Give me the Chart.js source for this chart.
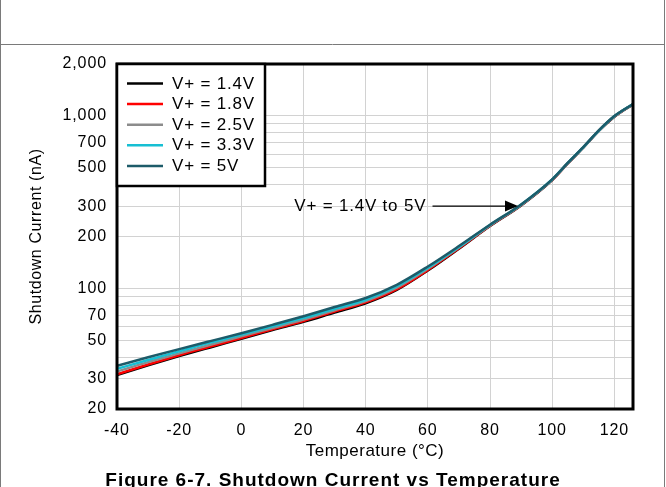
<!DOCTYPE html>
<html><head><meta charset="utf-8">
<script src="https://cdn.jsdelivr.net/npm/chart.js@4.4.0/dist/chart.umd.min.js"></script>
<style>html,body{margin:0;padding:0;background:#fff;}canvas{display:block}</style>
</head><body>
<canvas id="c" width="666" height="487"></canvas>
<script>
// ---- data ----
const temperatures = [-40, -30, -20, -10, 0, 10, 20, 30, 40, 50, 60, 70, 80, 90, 100, 105, 110, 115, 120, 123, 126];
const current14V = [31.5, 35.8, 40.5, 45.5, 51.0, 57.3, 64.0, 72.5, 82.0, 98, 127, 170, 230, 303, 425, 530, 655, 820, 990, 1080, 1165];
const current18V = [31.8, 36.2, 41.0, 46.0, 51.6, 58.0, 64.8, 73.5, 83.0, 99, 128, 171, 231, 304, 426, 531, 656, 821, 992, 1082, 1167];
const current25V = [33.0, 37.4, 42.0, 47.2, 52.8, 59.0, 66.0, 74.8, 84.5, 101, 130, 173, 232, 305, 427, 532, 657, 822, 994, 1083, 1168];
const current33V = [34.2, 38.5, 43.2, 48.5, 54.0, 60.3, 67.5, 76.3, 86.0, 103, 132, 174, 233, 306, 428, 533, 658, 823, 996, 1085, 1170];
const current5V  = [35.6, 39.9, 44.5, 49.5, 55.0, 61.5, 69.0, 78.0, 88.0, 105, 134, 176, 234, 307, 429, 534, 659, 824, 998, 1086, 1170];
const seriesLabels = ['V+ = 1.4V', 'V+ = 1.8V', 'V+ = 2.5V', 'V+ = 3.3V', 'V+ = 5V'];
const xTickValues = [-40, -20, 0, 20, 40, 60, 80, 100, 120];
const yGridValues = [20, 30, 40, 50, 60, 70, 80, 90, 100, 200, 300, 400, 500, 600, 700, 800, 900, 1000, 2000];
const yLabelValues = [20, 30, 50, 70, 100, 200, 300, 500, 700, 1000, 2000];
const annotationText = 'V+ = 1.4V to 5V';
const annotationTip = {x: 89, y: 300};
const annotationTextEndX = 59.5;
const annotationLineStartX = 61.5;
const xTitle = 'Temperature (°C)';
const yTitle = 'Shutdown Current (nA)';
const caption = 'Figure 6-7. Shutdown Current vs Temperature';

// ---- styles ----
const seriesValues = [current14V, current18V, current25V, current33V, current5V];
const seriesColors = ['#000000', '#ff0000', '#8c8c8c', '#17bfd3', '#1d5b69'];
const FONT = "'Liberation Sans', Arial, sans-serif";
const TICK_LS = '0.9px';

const datasets = seriesValues.map((vals, i) => ({
  label: seriesLabels[i],
  data: temperatures.map((t, k) => ({x: t, y: vals[k]})),
  borderColor: seriesColors[i],
  backgroundColor: seriesColors[i],
  borderWidth: 2.5,
  pointRadius: 0,
  cubicInterpolationMode: 'monotone',
  fill: false,
  order: seriesValues.length - i
}));

const decor = {
  id: 'decor',
  beforeLayout(chart) { chart.ctx.letterSpacing = TICK_LS; },
  beforeDraw(chart) {
    const ctx = chart.ctx;
    ctx.save();
    ctx.letterSpacing = '0px';
    ctx.fillStyle = '#fff';
    ctx.fillRect(0, 0, chart.width, chart.height);
    ctx.strokeStyle = '#7a7a7a';
    ctx.lineWidth = 1;
    ctx.beginPath();
    ctx.moveTo(0.5, 0); ctx.lineTo(0.5, chart.height);
    ctx.moveTo(664.5, 0); ctx.lineTo(664.5, chart.height);
    ctx.moveTo(0, 44.5); ctx.lineTo(665, 44.5);
    ctx.stroke();
    ctx.restore();
    ctx.letterSpacing = TICK_LS;
  },
  afterDatasetsDraw(chart) {
    const ctx = chart.ctx;
    const a = chart.chartArea;
    const xs = chart.scales.x, ys = chart.scales.y;
    ctx.save();
    // plot frame
    ctx.strokeStyle = '#000';
    ctx.lineWidth = 3;
    ctx.strokeRect(a.left, a.top, a.right - a.left, a.bottom - a.top);
    // legend
    const lx = a.left, ly = a.top, lw = 148, lh = 122;
    ctx.fillStyle = '#fff';
    ctx.fillRect(lx, ly, lw, lh);
    ctx.lineWidth = 2.5;
    ctx.strokeRect(lx, ly, lw, lh);
    ctx.font = '17px ' + FONT;
    ctx.letterSpacing = '0.8px';
    ctx.textBaseline = 'middle';
    ctx.textAlign = 'left';
    seriesLabels.forEach((lab, i) => {
      const yy = ly + 19.5 + i * 20.6;
      ctx.strokeStyle = seriesColors[i];
      ctx.lineWidth = 2.5;
      ctx.beginPath();
      ctx.moveTo(lx + 10, yy); ctx.lineTo(lx + 46, yy);
      ctx.stroke();
      ctx.fillStyle = '#000';
      ctx.fillText(lab, lx + 55, yy + 0.5);
    });
    // annotation
    const tipX = xs.getPixelForValue(annotationTip.x);
    const tipY = ys.getPixelForValue(annotationTip.y);
    const sx = xs.getPixelForValue(annotationLineStartX);
    ctx.strokeStyle = '#000';
    ctx.lineWidth = 1.2;
    ctx.beginPath();
    ctx.moveTo(sx, tipY); ctx.lineTo(tipX - 12, tipY);
    ctx.stroke();
    ctx.fillStyle = '#000';
    ctx.beginPath();
    ctx.moveTo(tipX, tipY);
    ctx.lineTo(tipX - 13, tipY - 5.5);
    ctx.lineTo(tipX - 13, tipY + 5.5);
    ctx.closePath();
    ctx.fill();
    ctx.textAlign = 'right';
    ctx.fillText(annotationText, xs.getPixelForValue(annotationTextEndX), tipY + 0.5);
    // y title
    ctx.save();
    ctx.translate(36.5, (a.top + a.bottom) / 2);
    ctx.rotate(-Math.PI / 2);
    ctx.textAlign = 'center';
    ctx.textBaseline = 'middle';
    ctx.font = '16px ' + FONT;
    ctx.letterSpacing = '0.6px';
    ctx.fillText(yTitle, 0, 0);
    ctx.restore();
    // x title
    ctx.textAlign = 'center';
    ctx.textBaseline = 'alphabetic';
    ctx.font = '17px ' + FONT;
    ctx.letterSpacing = '0.5px';
    ctx.fillText(xTitle, (a.left + a.right) / 2, 456);
    // caption
    ctx.font = 'bold 19px ' + FONT;
    ctx.letterSpacing = '1px';
    ctx.fillText(caption, chart.width / 2, 486);
    ctx.restore();
    ctx.letterSpacing = TICK_LS;
  }
};

new Chart(document.getElementById('c'), {
  type: 'line',
  data: {datasets},
  plugins: [decor],
  options: {
    responsive: false,
    devicePixelRatio: 1,
    animation: false,
    layout: {padding: {left: 0, right: 33, top: 64, bottom: 0}},
    plugins: {legend: {display: false}, tooltip: {enabled: false}, title: {display: false}},
    scales: {
      x: {
        type: 'linear', min: -40, max: 126,
        afterBuildTicks: s => { s.ticks = xTickValues.map(v => ({value: v})); },
        afterFit: s => { s.height = 78; },
        grid: {color: '#d2d2d2', lineWidth: 1, drawTicks: false},
        border: {display: false},
        ticks: {padding: 12, color: '#000', font: {family: FONT, size: 16}, maxRotation: 0, autoSkip: false}
      },
      y: {
        type: 'logarithmic', min: 20, max: 2000,
        afterBuildTicks: s => { s.ticks = yGridValues.map(v => ({value: v})); },
        afterFit: s => { s.width = 117; },
        grid: {color: '#d2d2d2', lineWidth: 1, drawTicks: false},
        border: {display: false},
        ticks: {
          padding: 10, color: '#000', font: {family: FONT, size: 16}, autoSkip: false,
          callback: v => yLabelValues.includes(v) ? v.toLocaleString('en-US') : ''
        }
      }
    }
  }
});
</script>
</body></html>
